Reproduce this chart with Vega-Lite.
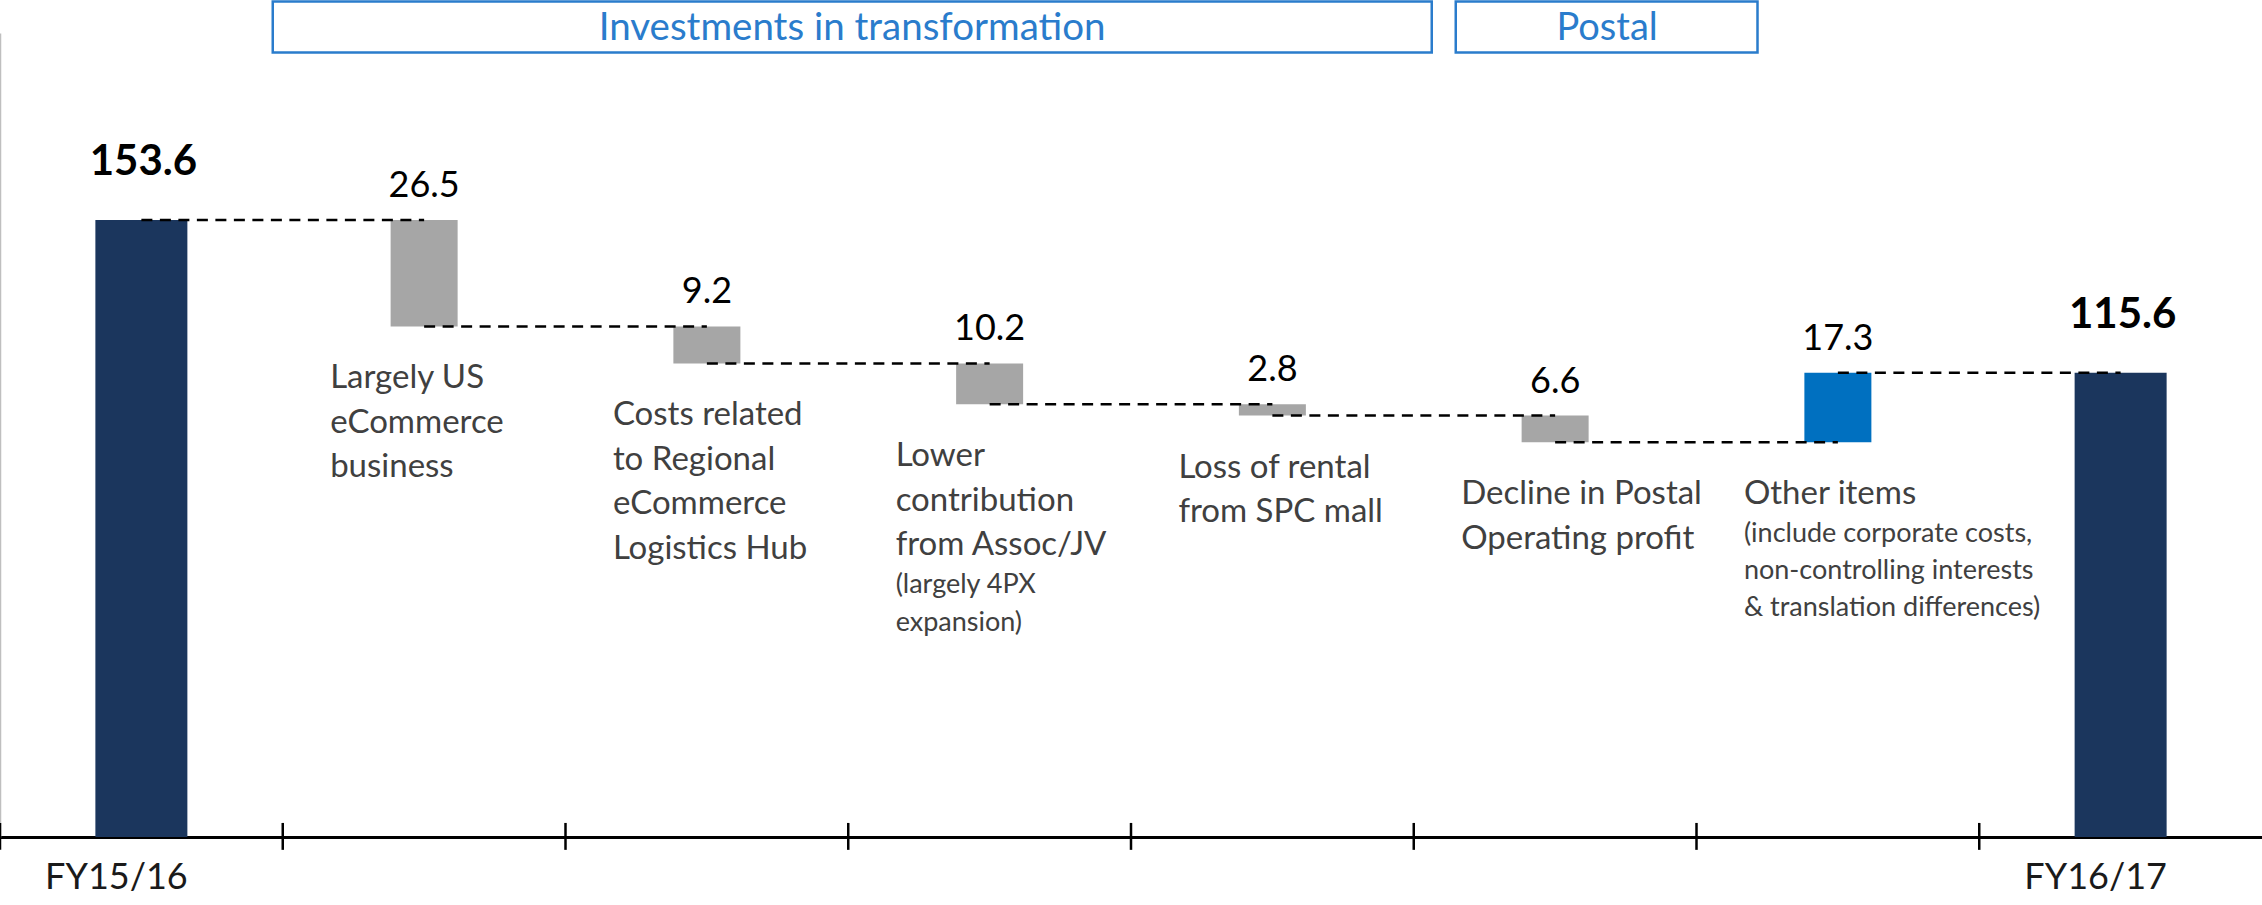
{
  "$schema": "https://vega.github.io/schema/vega-lite/v6.json",
  "width": 2262,
  "height": 804,
  "autosize": "none",
  "padding": {"left": 0, "top": 33, "right": 0, "bottom": 68},
  "background": "white",
  "config": {"view": {"stroke": null}, "font": "Lato"},
  "datasets": {
    "steps": [
      {"cat": "FY15/16", "kind": "total", "lo": 0, "hi": 153.6, "end": 153.6, "amount": 153.6, "next": "US"},
      {"cat": "US", "kind": "decrease", "lo": 127.1, "hi": 153.6, "end": 127.1, "amount": 26.5, "next": "Hub", "lines": ["Largely US", "eCommerce", "business"]},
      {"cat": "Hub", "kind": "decrease", "lo": 117.9, "hi": 127.1, "end": 117.9, "amount": 9.2, "next": "JV", "lines": ["Costs related", "to Regional", "eCommerce", "Logistics Hub"]},
      {"cat": "JV", "kind": "decrease", "lo": 107.7, "hi": 117.9, "end": 107.7, "amount": 10.2, "next": "SPC", "lines": ["Lower", "contribution", "from Assoc/JV"], "note": ["(largely 4PX", "expansion)"], "nmain": 3},
      {"cat": "SPC", "kind": "decrease", "lo": 104.9, "hi": 107.7, "end": 104.9, "amount": 2.8, "next": "Postal", "lines": ["Loss of rental", "from SPC mall"]},
      {"cat": "Postal", "kind": "decrease", "lo": 98.3, "hi": 104.9, "end": 98.3, "amount": 6.6, "next": "Other", "lines": ["Decline in Postal", "Operating profit"]},
      {"cat": "Other", "kind": "increase", "lo": 98.3, "hi": 115.6, "end": 115.6, "amount": 17.3, "next": "FY16/17", "lines": ["Other items"], "note": ["(include corporate costs,", "non-controlling interests", "& translation differences)"], "nmain": 1},
      {"cat": "FY16/17", "kind": "total", "lo": 0, "hi": 115.6, "end": 115.6, "amount": 115.6}
    ],
    "groups": [
      {"name": "Investments in transformation", "first": "US", "last": "SPC"},
      {"name": "Postal", "first": "Postal", "last": "Postal"}
    ]
  },
  "data": {"name": "steps"},
  "layer": [
    {
      "transform": [{"filter": "datum.kind == 'total'"}],
      "mark": {"type": "bar", "width": 92, "color": "#1b365d"},
      "encoding": {
        "x": {
          "field": "cat", "type": "nominal", "sort": null,
          "scale": {"domain": ["FY15/16", "US", "Hub", "JV", "SPC", "Postal", "Other", "FY16/17"], "paddingInner": 0, "paddingOuter": 0},
          "axis": {
            "title": null, "ticks": false, "tickSize": 0, "grid": false,
            "domainColor": "#000000", "domainWidth": 3,
            "labelExpr": "(datum.value == 'FY15/16' || datum.value == 'FY16/17') ? datum.value : ''",
            "labelFont": "Lato", "labelFontSize": 36, "labelColor": "#1a1a1a",
            "labelPadding": 23, "labelAngle": 0, "labelOffset": -25, "labelOverlap": false
          }
        },
        "y": {
          "field": "lo", "type": "quantitative",
          "scale": {"domain": [0, 200.15], "nice": false, "zero": true},
          "axis": {"title": null, "labels": false, "ticks": false, "grid": false, "domainColor": "#bfbfbf", "domainWidth": 1.5}
        },
        "y2": {"field": "hi"}
      }
    },
    {
      "transform": [{"filter": "datum.kind != 'total'"}],
      "mark": {"type": "bar", "width": 67},
      "encoding": {
        "x": {"field": "cat", "type": "nominal", "sort": null, "scale": {"domain": ["FY15/16", "US", "Hub", "JV", "SPC", "Postal", "Other", "FY16/17"]}},
        "y": {"field": "lo", "type": "quantitative"},
        "y2": {"field": "hi"},
        "color": {"field": "kind", "type": "nominal", "scale": {"domain": ["decrease", "increase"], "range": ["#a6a6a6", "#0070c0"]}, "legend": null}
      }
    },
    {
      "transform": [{"filter": "isValid(datum.next)"}],
      "mark": {"type": "rule", "strokeDash": [11, 7.5], "strokeWidth": 2.5, "color": "#000000"},
      "encoding": {
        "x": {"field": "cat", "type": "nominal", "sort": null, "scale": {"domain": ["FY15/16", "US", "Hub", "JV", "SPC", "Postal", "Other", "FY16/17"]}},
        "x2": {"field": "next"},
        "y": {"field": "end", "type": "quantitative"}
      }
    },
    {
      "mark": {"type": "rule", "strokeWidth": 2.5, "color": "#000000"},
      "encoding": {
        "x": {"field": "cat", "type": "nominal", "sort": null, "bandPosition": 0, "scale": {"domain": ["FY15/16", "US", "Hub", "JV", "SPC", "Postal", "Other", "FY16/17"]}},
        "y": {"datum": 3.5, "type": "quantitative"},
        "y2": {"datum": -3.2}
      }
    },
    {
      "transform": [{"filter": "datum.kind == 'total'"}],
      "mark": {"type": "text", "font": "Lato", "fontWeight": "bold", "fontSize": 42, "baseline": "alphabetic", "align": "center", "dx": 2, "dy": -45, "color": "#000000"},
      "encoding": {
        "x": {"field": "cat", "type": "nominal", "sort": null, "scale": {"domain": ["FY15/16", "US", "Hub", "JV", "SPC", "Postal", "Other", "FY16/17"]}},
        "y": {"field": "hi", "type": "quantitative"},
        "text": {"field": "amount", "type": "quantitative", "format": ".1f"}
      }
    },
    {
      "transform": [{"filter": "datum.kind != 'total'"}],
      "mark": {"type": "text", "font": "Lato", "fontSize": 36, "baseline": "alphabetic", "align": "center", "dy": -23, "color": "#000000"},
      "encoding": {
        "x": {"field": "cat", "type": "nominal", "sort": null, "scale": {"domain": ["FY15/16", "US", "Hub", "JV", "SPC", "Postal", "Other", "FY16/17"]}},
        "y": {"field": "hi", "type": "quantitative"},
        "text": {"field": "amount", "type": "quantitative", "format": ".1f"}
      }
    },
    {
      "transform": [{"filter": "isValid(datum.lines)"}],
      "mark": {"type": "text", "font": "Lato", "fontSize": 33, "lineHeight": 44.5, "baseline": "alphabetic", "align": "left", "dx": -94, "dy": 62, "color": "#404040"},
      "encoding": {
        "x": {"field": "cat", "type": "nominal", "sort": null, "scale": {"domain": ["FY15/16", "US", "Hub", "JV", "SPC", "Postal", "Other", "FY16/17"]}},
        "y": {"field": "lo", "type": "quantitative"},
        "text": {"field": "lines", "type": "nominal"}
      }
    },
    {
      "transform": [{"filter": "datum.nmain == 3"}],
      "mark": {"type": "text", "font": "Lato", "fontSize": 27, "lineHeight": 38, "baseline": "alphabetic", "align": "left", "dx": -94, "dy": 189, "color": "#404040"},
      "encoding": {
        "x": {"field": "cat", "type": "nominal", "sort": null, "scale": {"domain": ["FY15/16", "US", "Hub", "JV", "SPC", "Postal", "Other", "FY16/17"]}},
        "y": {"field": "lo", "type": "quantitative"},
        "text": {"field": "note", "type": "nominal"}
      }
    },
    {
      "transform": [{"filter": "datum.nmain == 1"}],
      "mark": {"type": "text", "font": "Lato", "fontSize": 27, "lineHeight": 37, "baseline": "alphabetic", "align": "left", "dx": -94, "dy": 100, "color": "#404040"},
      "encoding": {
        "x": {"field": "cat", "type": "nominal", "sort": null, "scale": {"domain": ["FY15/16", "US", "Hub", "JV", "SPC", "Postal", "Other", "FY16/17"]}},
        "y": {"field": "lo", "type": "quantitative"},
        "text": {"field": "note", "type": "nominal"}
      }
    },
    {
      "data": {"name": "groups"},
      "transform": [{"filter": "datum.name != 'Postal'"}],
      "layer": [
        {
          "mark": {"type": "rect", "fill": "#ffffff", "stroke": "#2a7ccc", "strokeWidth": 2.5, "xOffset": -10, "x2Offset": 18},
          "encoding": {
            "x": {"field": "first", "type": "nominal", "sort": null, "bandPosition": 0, "scale": {"domain": ["FY15/16", "US", "Hub", "JV", "SPC", "Postal", "Other", "FY16/17"]}},
            "x2": {"field": "last", "bandPosition": 1},
            "y": {"datum": 208.0, "type": "quantitative"},
            "y2": {"datum": 195.3}
          }
        },
        {
          "mark": {"type": "text", "font": "Lato", "fontSize": 38.5, "baseline": "alphabetic", "align": "center", "dx": 428, "color": "#2a7ccc"},
          "encoding": {
            "x": {"field": "first", "type": "nominal", "sort": null, "scale": {"domain": ["FY15/16", "US", "Hub", "JV", "SPC", "Postal", "Other", "FY16/17"]}},
            "y": {"datum": 198.4, "type": "quantitative"},
            "text": {"field": "name", "type": "nominal"}
          }
        }
      ]
    },
    {
      "data": {"name": "groups"},
      "transform": [{"filter": "datum.name == 'Postal'"}],
      "layer": [
        {
          "mark": {"type": "rect", "fill": "#ffffff", "stroke": "#2a7ccc", "strokeWidth": 2.5, "xOffset": 42, "x2Offset": 61},
          "encoding": {
            "x": {"field": "first", "type": "nominal", "sort": null, "bandPosition": 0, "scale": {"domain": ["FY15/16", "US", "Hub", "JV", "SPC", "Postal", "Other", "FY16/17"]}},
            "x2": {"field": "last", "bandPosition": 1},
            "y": {"datum": 208.0, "type": "quantitative"},
            "y2": {"datum": 195.3}
          }
        },
        {
          "mark": {"type": "text", "font": "Lato", "fontSize": 38, "baseline": "alphabetic", "align": "center", "dx": 52, "color": "#2a7ccc"},
          "encoding": {
            "x": {"field": "first", "type": "nominal", "sort": null, "scale": {"domain": ["FY15/16", "US", "Hub", "JV", "SPC", "Postal", "Other", "FY16/17"]}},
            "y": {"datum": 198.4, "type": "quantitative"},
            "text": {"field": "name", "type": "nominal"}
          }
        }
      ]
    }
  ]
}
